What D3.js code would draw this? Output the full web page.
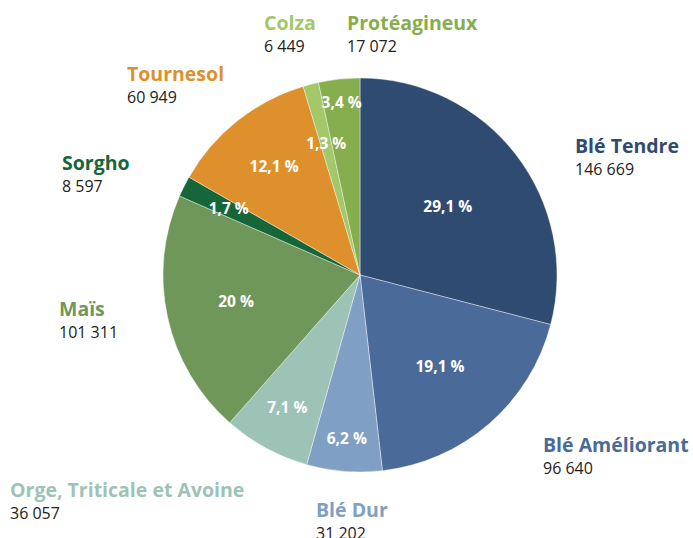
<!DOCTYPE html>
<html>
<head>
<meta charset="utf-8">
<script src="https://cdn.jsdelivr.net/npm/d3@7"></script>
<style>
  body { margin: 0; background: #fff; }
  svg text { font-family: "Open Sans", "Liberation Sans", sans-serif; }
</style>
</head>
<body>
<div id="box"></div>
<script>
// surfaces par culture (ha), dans l'ordre du camembert, depuis midi
var categories = ["Blé Tendre", "Blé Améliorant", "Blé Dur", "Orge, Triticale et Avoine",
                  "Maïs", "Sorgho", "Tournesol", "Colza", "Protéagineux"];
var values = [146669, 96640, 31202, 36057, 101311, 8597, 60949, 6449, 17072];
var pctLabels = ["29,1 %", "19,1 %", "6,2 %", "7,1 %", "20 %", "1,7 %", "12,1 %", "1,3 %", "3,4 %"];
var colors = ["#2f4b71", "#4a6a99", "#809fc4", "#9dc3b6", "#6f9759", "#16663a", "#de902d", "#a2c86a", "#86ae4e"];

var width = 693, height = 538;
var cx = 360, cy = 275, radius = 197;

// where the outer labels sit (left x, baseline of name)
var labelPos = [[575, 153], [543, 452], [316, 517], [10, 497], [59, 316], [62, 170], [127, 81], [264, 30], [347, 30]];
// radius used for the percentage text of each slice
var pctRadius = [111, 122, 165, 152, 127, 147, 138, 135, 173];

var fmt = function(v) { return d3.format(",")(v).replace(/,/g, " "); };

var svg = d3.select("#box").append("svg")
  .attr("width", width)
  .attr("height", height);

var pie = d3.pie().sort(null).value(function(d) { return d; });
var arcs = pie(values);

var arc = d3.arc().innerRadius(0).outerRadius(radius);

var g = svg.append("g").attr("transform", "translate(" + cx + "," + cy + ")");

g.selectAll("path")
  .data(arcs)
  .enter()
  .append("path")
  .attr("d", arc)
  .attr("fill", function(d, i) { return colors[i]; })
  .attr("stroke", "#fff")
  .attr("stroke-width", 0.4);

g.selectAll("text.pct")
  .data(arcs)
  .enter()
  .append("text")
  .attr("class", "pct")
  .attr("x", function(d, i) {
    var a = (d.startAngle + d.endAngle) / 2;
    return pctRadius[i] * Math.sin(a);
  })
  .attr("y", function(d, i) {
    var a = (d.startAngle + d.endAngle) / 2;
    return -pctRadius[i] * Math.cos(a) + 5;
  })
  .attr("text-anchor", "middle")
  .attr("fill", "#fff")
  .attr("font-weight", "bold")
  .attr("font-size", "15.5px")
  .text(function(d, i) { return pctLabels[i]; });

var labels = svg.selectAll("g.lab")
  .data(categories)
  .enter()
  .append("g")
  .attr("class", "lab")
  .attr("transform", function(d, i) { return "translate(" + labelPos[i][0] + "," + labelPos[i][1] + ")"; });

labels.append("text")
  .attr("fill", function(d, i) { return colors[i]; })
  .attr("font-weight", "bold")
  .attr("font-size", "19.5px")
  .text(function(d) { return d; });

labels.append("text")
  .attr("y", 22)
  .attr("fill", "#222")
  .attr("font-size", "16px")
  .text(function(d, i) { return fmt(values[i]); });
</script>
</body>
</html>
